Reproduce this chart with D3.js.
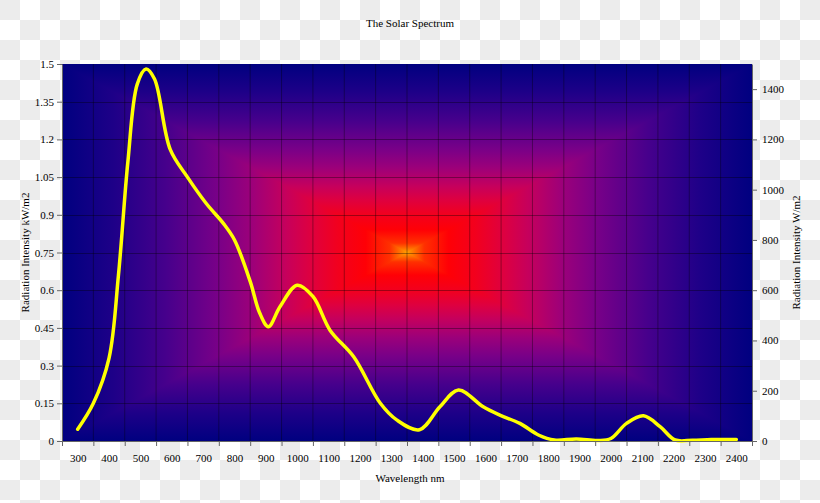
<!DOCTYPE html>
<html><head><meta charset="utf-8">
<script src="https://cdn.jsdelivr.net/npm/d3@7"></script>
<style>html,body{margin:0;padding:0;background:#fff;}svg{display:block;}</style>
</head><body>
<div id="chart"></div>
<script>
// ---- data ----
const wavelengths = [300,350,400,430,460,490,518,545,595,650,710,765,800,850,880,908,945,1000,1050,1105,1180,1265,1317,1390,1455,1514,1593,1646,1710,1769,1820,1890,1960,2000,2050,2104,2157,2205,2260,2320,2400];
const intensity   = [0.047,0.15,0.33,0.66,1.11,1.42,1.48,1.44,1.16,1.05,0.945,0.865,0.80,0.635,0.51,0.455,0.534,0.62,0.575,0.44,0.335,0.15,0.084,0.045,0.136,0.203,0.136,0.103,0.07,0.024,0.004,0.008,0.002,0.01,0.07,0.10,0.057,0.004,0.003,0.006,0.006];
const xCategories = [300,400,500,600,700,800,900,1000,1100,1200,1300,1400,1500,1600,1700,1800,1900,2000,2100,2200,2300,2400];
const leftTicks = [0,0.15,0.3,0.45,0.6,0.75,0.9,1.05,1.2,1.35,1.5];
const leftTickLabels = ["0","0.15","0.3","0.45","0.6","0.75","0.9","1.05","1.2","1.35","1.5"];
const rightTicks = [0,200,400,600,800,1000,1200,1400];

const W = 820, H = 503;
const L = 62, R = 752, T = 64, B = 441;
const svg = d3.select("#chart").append("svg").attr("width", W).attr("height", H);
const defs = svg.append("defs");

// checkerboard page background
const pat = defs.append("pattern").attr("id","chk").attr("width",40).attr("height",40).attr("patternUnits","userSpaceOnUse");
pat.append("rect").attr("width",40).attr("height",40).attr("fill","#ffffff");
pat.append("rect").attr("x",0).attr("y",0).attr("width",20).attr("height",20).attr("fill","#ececec");
pat.append("rect").attr("x",20).attr("y",20).attr("width",20).attr("height",20).attr("fill","#ececec");
svg.append("rect").attr("width",W).attr("height",H).attr("fill","url(#chk)");

const x = d3.scaleLinear().domain([250, 2450]).range([L, R]);
const yL = d3.scaleLinear().domain([0, 1.5]).range([B, T]);
const yR = d3.scaleLinear().domain([0, 1500]).range([B, T]);

// rectangular gradient background
const stops = [
  [0, "#000080"],[0.15,"#1e0088"],[0.3,"#46008c"],[0.45,"#780088"],[0.55,"#9c007a"],
  [0.65,"#c6005c"],[0.72,"#de0040"],[0.8,"#f2001e"],[0.88,"#ff0006"],[0.95,"#ff3000"],[1,"#ffa000"]
];
function symGrad(id, x1, y1, x2, y2) {
  const g = defs.append("linearGradient").attr("id", id).attr("gradientUnits","userSpaceOnUse")
    .attr("x1",x1).attr("y1",y1).attr("x2",x2).attr("y2",y2);
  stops.forEach(s => g.append("stop").attr("offset", s[0]/2).attr("stop-color", s[1]));
  stops.slice().reverse().forEach(s => g.append("stop").attr("offset", 1 - s[0]/2).attr("stop-color", s[1]));
}
symGrad("gh", L, 0, R, 0);
symGrad("gv", 0, T, 0, B);
const cx = (L+R)/2, cy = (T+B)/2;
svg.append("rect").attr("x",L).attr("y",T).attr("width",R-L).attr("height",B-T).attr("fill","url(#gh)");
svg.append("path").attr("d", `M${L},${T}L${R},${T}L${cx},${cy}Z M${L},${B}L${R},${B}L${cx},${cy}Z`).attr("fill","url(#gv)");

// gridlines
const g = svg.append("g");
const vGrid = d3.range(350, 2450, 100);
g.selectAll(".vg").data(vGrid).join("line")
  .attr("x1", d => x(d)).attr("x2", d => x(d)).attr("y1", T).attr("y2", B)
  .attr("stroke","#000").attr("stroke-opacity",0.35).attr("stroke-width",1);
g.selectAll(".hg").data(leftTicks.slice(1, -1)).join("line")
  .attr("x1", L).attr("x2", R).attr("y1", d => Math.round(yL(d))+0.5).attr("y2", d => Math.round(yL(d))+0.5)
  .attr("stroke","#000").attr("stroke-opacity",0.35).attr("stroke-width",1);

// curve
const line = d3.line().x((d,i) => x(wavelengths[i])).y(d => yL(d)).curve(d3.curveCatmullRom.alpha(0.5));
svg.append("path").datum(intensity).attr("d", line)
  .attr("fill","none").attr("stroke","#ffff00").attr("stroke-width",3.5).attr("stroke-linejoin","round").attr("stroke-linecap","round");

const font = "'Liberation Serif','Times New Roman',serif";
function styleAxis(sel) {
  sel.select(".domain").attr("stroke","#666");
  sel.selectAll(".tick line").attr("stroke","#666");
  sel.selectAll("text").attr("font-family", font).attr("font-size", 11).attr("fill","#000");
}

// bottom axis: ticks at category boundaries, labels at centers
const xb = svg.append("g").attr("transform",`translate(0,${B})`)
  .call(d3.axisBottom(x).tickValues(d3.range(250, 2451, 100)).tickSize(5).tickFormat("").tickSizeOuter(0));
styleAxis(xb);
const xl = svg.append("g").attr("transform",`translate(0,${B})`)
  .call(d3.axisBottom(x).tickValues(xCategories).tickSize(0).tickPadding(13).tickFormat(d3.format("d")));
xl.select(".domain").remove();
styleAxis(xl);

// left axis
const yl = svg.append("g").attr("transform",`translate(${L},0)`)
  .call(d3.axisLeft(yL).tickValues(leftTicks).tickSize(5).tickPadding(3).tickSizeOuter(0)
    .tickFormat((d,i) => leftTickLabels[i]));
styleAxis(yl);

// right axis
const yr = svg.append("g").attr("transform",`translate(${R},0)`)
  .call(d3.axisRight(yR).tickValues(rightTicks).tickSize(5).tickPadding(5).tickSizeOuter(0).tickFormat(d3.format("d")));
styleAxis(yr);

// titles
svg.append("text").attr("x", 410).attr("y", 27).attr("text-anchor","middle")
  .attr("font-family", font).attr("font-size", 11).text("The Solar Spectrum");
svg.append("text").attr("x", 410).attr("y", 482).attr("text-anchor","middle")
  .attr("font-family", font).attr("font-size", 11).text("Wavelength nm");
svg.append("text").attr("transform", `translate(29,${cy}) rotate(-90)`).attr("text-anchor","middle")
  .attr("font-family", font).attr("font-size", 11).text("Radiation Intensity kW/m2");
svg.append("text").attr("transform", `translate(800,${cy}) rotate(-90)`).attr("text-anchor","middle")
  .attr("font-family", font).attr("font-size", 11).text("Radiation Intensity W/m2");
</script>
</body></html>
